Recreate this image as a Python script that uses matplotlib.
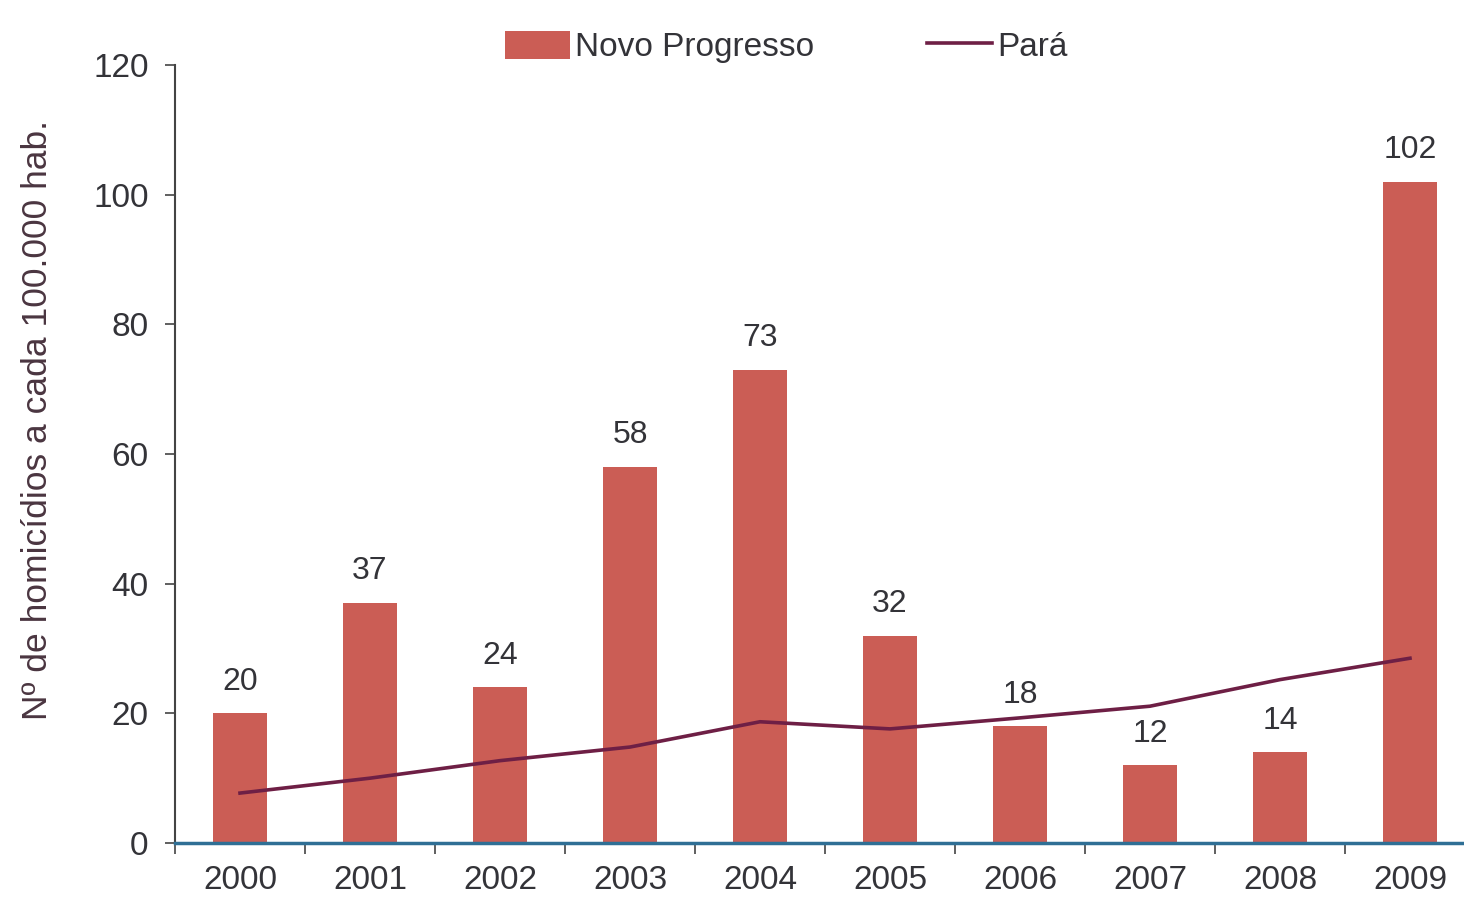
import numpy as np
import matplotlib
matplotlib.use("Agg")
import matplotlib.pyplot as plt

plt.rcParams['font.family'] = ['Liberation Sans', 'DejaVu Sans']

# data
anos = ['2000', '2001', '2002', '2003', '2004', '2005', '2006', '2007', '2008', '2009']
novo_progresso = [20, 37, 24, 58, 73, 32, 18, 12, 14, 102]
para = [7.7, 10.0, 12.7, 14.8, 18.7, 17.6, 19.3, 21.1, 25.2, 28.5]

bar_color = '#cb5d55'
line_color = '#6e1f45'
text_color = '#333338'

fig = plt.figure(figsize=(14.64, 8.99), dpi=100)
ax = fig.add_axes([175/1464, 56/899, (1464-175)/1464, 778/899])

x = np.arange(len(anos))
bars = ax.bar(x, novo_progresso, width=0.42, color=bar_color, zorder=2,
              label='Novo Progresso')
linha, = ax.plot(x, para, color=line_color, lw=2.6, zorder=3, label='Pará')

# value labels above bars
for xi, v in zip(x, novo_progresso):
    ax.annotate(str(v), (xi, v), xytext=(0, 12), textcoords='offset points',
                ha='center', va='bottom', fontsize=23, color=text_color)

ax.set_yticks(range(0, 121, 20))
ax.tick_params(axis='y', labelsize=24, labelcolor=text_color, length=7,
               width=1.2, color='#444444', pad=12)

# category labels centred, ticks between categories
ax.set_xticks(x)
ax.set_xticklabels(anos)
ax.set_xticks(np.arange(-0.5, len(anos) - 0.5, 1), minor=True)
ax.tick_params(axis='x', which='major', length=0, labelsize=24,
               labelcolor=text_color, pad=16)
ax.tick_params(axis='x', which='minor', length=8, width=1.2, color='#444444')

# limits last so the ticks don't widen them; the right end runs off the image
ax.set_xlim(-0.5, -0.5 + (1464-175)/130)
ax.set_ylim(0, 120)

for s in ['top', 'right']:
    ax.spines[s].set_visible(False)
ax.spines['left'].set_color('#444444')
ax.spines['left'].set_linewidth(1.5)
ax.spines['bottom'].set_color('#2f6f95')
ax.spines['bottom'].set_linewidth(2.5)

fig.text(38/1464, 1 - 420/899, 'Nº de homicídios a cada 100.000 hab.',
         rotation=90, ha='center', va='center', fontsize=25.5, color='#4a3540')

fig.legend([bars, linha], ['Novo Progresso', 'Pará'], loc='center',
           bbox_to_anchor=(786/1464, 1 - 47/899), ncol=2,
           frameon=False, fontsize=24, handlelength=1.95, handleheight=0.9,
           handletextpad=0.15, columnspacing=3.4, labelcolor=text_color)

fig.savefig('out.png', dpi=100)
